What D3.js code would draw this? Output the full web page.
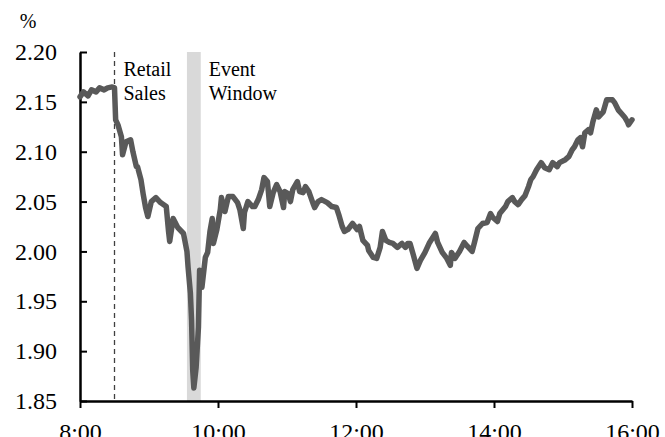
<!DOCTYPE html>
<html>
<head>
<meta charset="utf-8">
<script src="https://cdn.jsdelivr.net/npm/d3@7"></script>
<style>
  body { margin: 0; background: #fff; }
  svg { display: block; }
  svg text { font-family: "Liberation Serif", "Times New Roman", Times, Tinos, "Nimbus Roman", "Noto Serif", FreeSerif, "DejaVu Serif", serif; }
</style>
</head>
<body>
<svg id="chart" width="665" height="437"></svg>
<script>
// intraday yield, %
const times = ["8:00","8:03","8:07","8:10","8:14","8:17","8:21","8:24","8:28","8:30","8:31","8:33","8:36","8:37","8:40","8:44","8:46","8:49","8:50","8:53","8:55","8:57","8:59","9:02","9:06","9:10","9:15","9:17","9:18","9:21","9:25","9:30","9:33","9:34","9:36","9:37","9:38","9:39","9:41","9:43","9:44","9:46","9:47","9:49","9:51","9:53","9:55","9:56","9:59","10:02","10:03","10:06","10:09","10:13","10:17","10:19","10:22","10:23","10:26","10:30","10:32","10:35","10:38","10:40","10:43","10:45","10:48","10:51","10:54","10:57","10:58","11:01","11:03","11:05","11:09","11:11","11:14","11:16","11:19","11:23","11:24","11:27","11:30","11:35","11:39","11:43","11:45","11:48","11:50","11:53","11:57","11:59","12:01","12:03","12:06","12:10","12:11","12:15","12:18","12:21","12:23","12:26","12:29","12:32","12:36","12:40","12:43","12:45","12:47","12:50","12:53","12:56","13:00","13:04","13:09","13:11","13:15","13:19","13:22","13:23","13:26","13:30","13:34","13:37","13:41","13:43","13:46","13:50","13:54","13:57","13:59","14:03","14:05","14:10","14:12","14:16","14:18","14:21","14:24","14:27","14:30","14:32","14:34","14:37","14:41","14:44","14:48","14:51","14:55","14:57","15:02","15:05","15:08","15:10","15:13","15:15","15:17","15:19","15:22","15:24","15:26","15:29","15:31","15:35","15:38","15:43","15:45","15:48","15:51","15:54","15:56","15:57","16:00"];
const yields = [2.155,2.160,2.156,2.162,2.160,2.164,2.162,2.164,2.165,2.164,2.132,2.127,2.115,2.097,2.110,2.112,2.100,2.085,2.085,2.072,2.057,2.044,2.035,2.050,2.054,2.049,2.045,2.020,2.010,2.033,2.024,2.018,2.000,1.984,1.958,1.931,1.881,1.863,1.884,1.924,1.981,1.964,1.974,1.994,1.999,2.020,2.033,2.008,2.022,2.042,2.054,2.040,2.055,2.055,2.049,2.042,2.023,2.039,2.050,2.045,2.045,2.052,2.062,2.074,2.070,2.045,2.059,2.067,2.060,2.044,2.060,2.058,2.050,2.062,2.070,2.060,2.059,2.065,2.060,2.047,2.044,2.050,2.052,2.049,2.045,2.044,2.037,2.025,2.020,2.022,2.028,2.025,2.022,2.025,2.011,2.006,2.001,1.994,1.993,2.004,2.020,2.011,2.009,2.008,2.004,2.008,2.004,2.008,2.008,1.996,1.983,1.991,1.999,2.009,2.018,2.009,1.999,1.993,1.986,1.999,1.993,2.000,2.009,2.005,2.000,2.009,2.023,2.028,2.029,2.038,2.034,2.030,2.038,2.045,2.050,2.054,2.050,2.047,2.052,2.056,2.065,2.072,2.075,2.082,2.089,2.084,2.082,2.089,2.085,2.089,2.092,2.095,2.102,2.105,2.112,2.114,2.105,2.119,2.122,2.119,2.130,2.142,2.135,2.140,2.152,2.152,2.149,2.142,2.138,2.134,2.130,2.127,2.132];

const yTicks = [1.85, 1.90, 1.95, 2.00, 2.05, 2.10, 2.15, 2.20];
const xTicks = ["8:00", "10:00", "12:00", "14:00", "16:00"];
const retailSales = "8:30";
const eventWindow = ["9:33", "9:45"];

const toMin = s => { const p = s.split(":"); return +p[0] * 60 + +p[1]; };
const data = times.map((t, i) => ({ t: toMin(t), v: yields[i] }));

const svg = d3.select("#chart");
const plotL = 80, plotR = 632, plotT = 52, plotB = 401;

const x = d3.scaleLinear().domain([toMin("8:00"), toMin("16:00")]).range([plotL, plotR]);
const y = d3.scaleLinear().domain([1.85, 2.20]).range([plotB, plotT]);

// event window band
svg.append("rect")
  .attr("x", x(toMin(eventWindow[0])))
  .attr("y", plotT)
  .attr("width", x(toMin(eventWindow[1])) - x(toMin(eventWindow[0])))
  .attr("height", plotB - plotT)
  .attr("fill", "#d9d9d9");

// retail sales release
svg.append("line")
  .attr("x1", x(toMin(retailSales))).attr("x2", x(toMin(retailSales)))
  .attr("y1", plotT).attr("y2", plotB)
  .attr("stroke", "#404040")
  .attr("stroke-width", 1.3)
  .attr("stroke-dasharray", "5,4");

// axes
const yAxis = d3.axisLeft(y).tickValues(yTicks).tickFormat(d3.format(".2f"))
  .tickSizeInner(-7).tickSizeOuter(0).tickPadding(23);
const xAxis = d3.axisBottom(x).tickValues(xTicks.map(toMin))
  .tickFormat((d, i) => xTicks[i]).tickSizeInner(7).tickSizeOuter(0).tickPadding(15);

const gy = svg.append("g").attr("transform", `translate(${plotL},0)`).call(yAxis);
const gx = svg.append("g").attr("transform", `translate(0,${plotB})`).call(xAxis);

[gy, gx].forEach(g => {
  g.attr("font-size", 24);
  g.select(".domain").attr("stroke", "#000").attr("stroke-width", 2.5);
  g.selectAll(".tick line").attr("stroke", "#000").attr("stroke-width", 2);
  g.selectAll(".tick text").attr("fill", "#000");
});

// the yield line
const line = d3.line().x(d => x(d.t)).y(d => y(d.v));
svg.append("path")
  .datum(data)
  .attr("d", line)
  .attr("fill", "none")
  .attr("stroke", "#595959")
  .attr("stroke-width", 5.5)
  .attr("stroke-linejoin", "round")
  .attr("stroke-linecap", "round");

// labels
svg.append("text").attr("x", 28).attr("y", 28).attr("text-anchor", "middle")
  .attr("font-size", 20).text("%");

const note = (tx, lines) => {
  const t = svg.append("text").attr("x", tx).attr("y", 76).attr("font-size", 20);
  lines.forEach((s, i) => t.append("tspan").attr("x", tx).attr("dy", i ? 24 : 0).text(s));
};
note(x(toMin(retailSales)) + 9, ["Retail", "Sales"]);
note(x(toMin(eventWindow[1])) + 8, ["Event", "Window"]);
</script>
</body>
</html>
